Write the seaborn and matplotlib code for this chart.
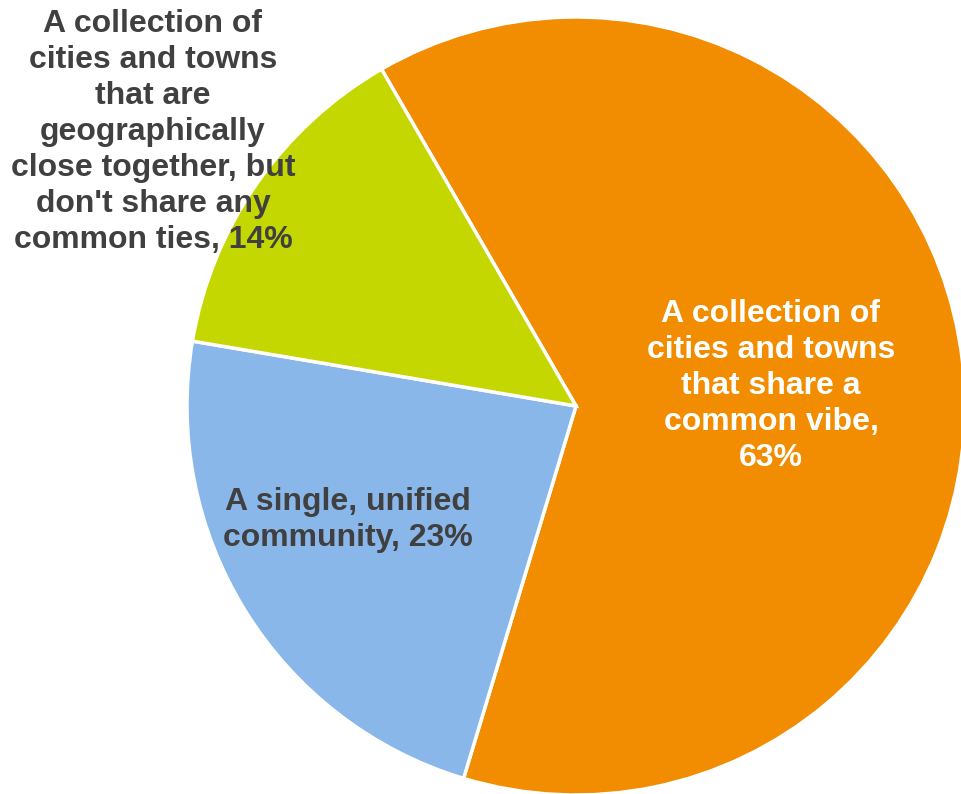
import matplotlib
matplotlib.use("Agg")
import matplotlib.pyplot as plt
import seaborn as sns

sns.set_theme(style="white")
plt.rcParams["font.family"] = ["Liberation Sans", "DejaVu Sans"]

# Survey responses: how the region is perceived
categories = [
    "A collection of\ncities and towns\nthat share a\ncommon vibe",
    "A single, unified\ncommunity",
    "A collection of\ncities and towns\nthat are\ngeographically\nclose together, but\ndon't share any\ncommon ties",
]
shares = [63, 23, 14]
colors = ["#F28C00", "#8AB7EA", "#C5D700"]
label_colors = ["white", "#404040", "#404040"]
# label centres in figure pixels (x, y from top)
label_pos = [(771, 386), (348, 520), (153, 132)]
label_sep = [",\n", ", ", ", "]

W, H = 962, 794
fig = plt.figure(figsize=(W / 100, H / 100), dpi=100)
ax = fig.add_axes([0, 0, 1, 1])

ax.pie(
    shares,
    colors=colors,
    startangle=120,
    counterclock=False,
    center=(576, H - 406),
    radius=389,
    wedgeprops=dict(edgecolor="white", linewidth=2.5),
    frame=True,
)

for cat, val, col, (px, py), sep in zip(categories, shares, label_colors, label_pos, label_sep):
    ax.text(px, H - py, f"{cat}{sep}{val}%", ha="center", va="center",
            multialignment="center", fontsize=23, fontweight="bold",
            color=col, linespacing=1.26)

ax.set_xlim(0, W)
ax.set_ylim(0, H)
ax.set_aspect("equal")
ax.axis("off")

fig.savefig("out.png", dpi=100, facecolor="white")
